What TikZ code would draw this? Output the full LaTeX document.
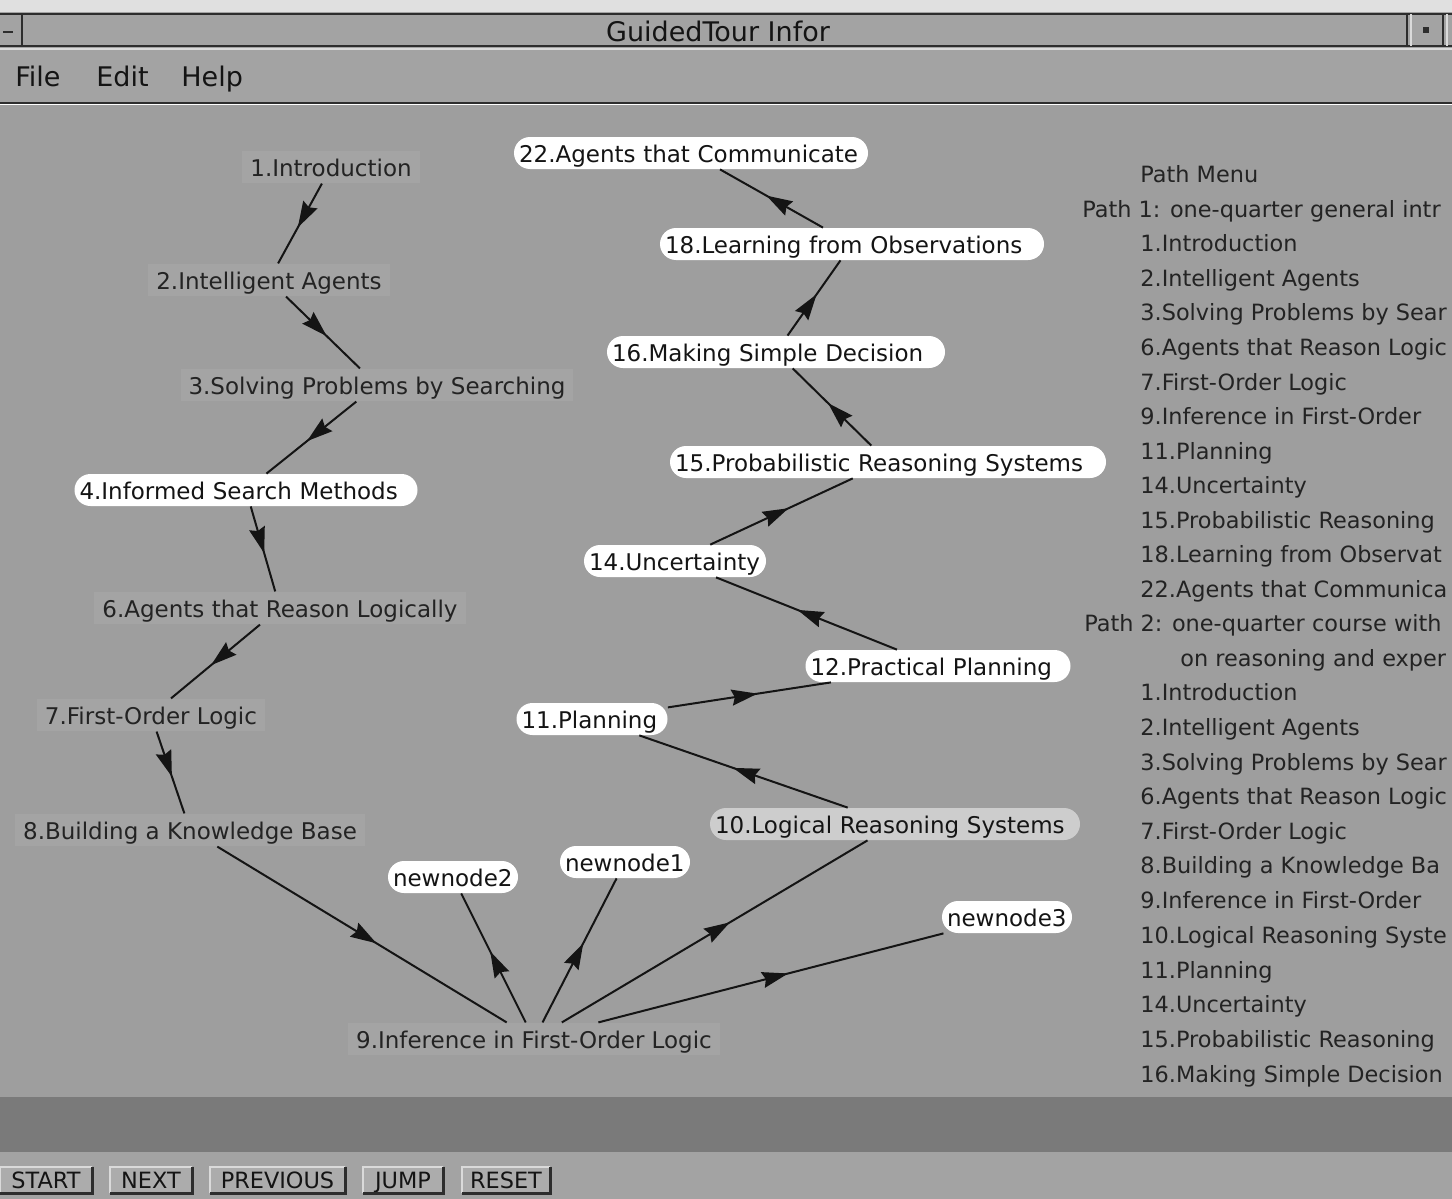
\documentclass[tikz,border=0pt]{standalone}
\usepackage{fontspec}
\setmainfont{DejaVu Sans}
\usetikzlibrary{arrows.meta,decorations.markings}
\definecolor{canvasgray}{RGB}{158,158,158}
\definecolor{bargray}{RGB}{163,163,163}
\definecolor{topstrip}{RGB}{224,224,224}
\definecolor{bandgray}{RGB}{122,122,122}
\definecolor{plainfill}{RGB}{164,164,164}
\definecolor{selfill}{RGB}{205,205,205}
\definecolor{btngray}{RGB}{172,172,172}
\definecolor{ink}{RGB}{20,20,20}
\definecolor{softink}{RGB}{35,35,35}
\definecolor{darkline}{RGB}{45,45,45}
\definecolor{lightline}{RGB}{218,218,218}
\begin{document}
\begin{tikzpicture}[x=0.5pt,y=-0.5pt,
  every node/.style={font=\fontsize{11.5pt}{13pt}\selectfont, text=ink, text height=10pt, text depth=0.6pt},
  pill/.style={fill=white, rounded corners=8pt, inner xsep=2.5pt, inner ysep=0pt, minimum height=16pt, align=left},
  plain/.style={fill=plainfill, inner xsep=4pt, inner ysep=2.8pt, text=softink},
  rp/.style={anchor=west, inner sep=0pt, text=softink, font=\fontsize{11.2pt}{13pt}\selectfont},
  menutext/.style={anchor=west, inner sep=0pt, font=\fontsize{13.5pt}{15pt}\selectfont, text height=11pt, text depth=1.2pt},
  titletext/.style={inner sep=0pt, font=\fontsize{13.5pt}{15pt}\selectfont, text height=11pt, text depth=1.2pt},
  btn/.style={fill=btngray, font=\fontsize{11.2pt}{13pt}\selectfont, text=ink, inner sep=0pt, minimum height=13pt, text height=8pt, text depth=0pt},
  conn/.style={color=ink, line width=1pt, postaction={decorate},
    decoration={markings, mark=at position 0.55 with {\arrow{Stealth[length=13pt,width=8pt,inset=1.5pt]}}}}
]
\useasboundingbox (0,0) rectangle (1452,1199);
% window background
\fill[topstrip] (0,0) rectangle (1452,12);
\fill[bargray] (0,12) rectangle (1452,104);
\draw[darkline, line width=1pt] (0,14) -- (1452,14);
\draw[darkline, line width=1pt] (0,46) -- (1452,46);
\draw[lightline, line width=0.6pt] (0,49) -- (1452,49);
\draw[darkline, line width=1pt] (22,14) -- (22,46);
\draw[darkline, line width=1.2pt] (3,32) -- (13,32);
\draw[darkline, line width=1pt] (1407,14) -- (1407,46);
\draw[lightline, line width=0.6pt] (1411,14) -- (1411,46);
\draw[darkline, line width=1pt] (1443,14) -- (1443,46);
\draw[lightline, line width=0.6pt] (1447,14) -- (1447,46);
\fill[darkline] (1423,27) rectangle (1429,33);
\draw[darkline, line width=1.2pt] (0,103) -- (1452,103);
\fill[canvasgray] (0,104.5) rectangle (1452,1097);
\fill[bandgray] (0,1097) rectangle (1452,1152);
\fill[bargray] (0,1152) rectangle (1452,1199);
% title and menu
\node[titletext] (title) at (718,32) {GuidedTour Infor};
\node[menutext] (mfile) at (15,77) {File};
\node[menutext] (medit) at (96,77) {Edit};
\node[menutext] (mhelp) at (181,77) {Help};
% graph nodes
\node[plain] (n1) at (331,167) {1.Introduction};
\node[plain] (n2) at (269,280) {2.Intelligent Agents};
\node[plain] (n3) at (377,385) {3.Solving Problems by Searching};
\node[pill, text width=166.5pt] (n4) at (246,490) {4.Informed Search Methods};
\node[plain] (n6) at (280,608) {6.Agents that Reason Logically};
\node[plain] (n7) at (151,715) {7.First-Order Logic};
\node[plain] (n8) at (190,830) {8.Building a Knowledge Base};
\node[plain] (n9) at (534,1039) {9.Inference in First-Order Logic};
\node[pill, fill=selfill, text width=180pt] (n10) at (895,824) {10.Logical Reasoning Systems};
\node[pill, text width=70.5pt] (n11) at (592,719) {11.Planning};
\node[pill, text width=127.5pt] (n12) at (938,666) {12.Practical Planning};
\node[pill, text width=86pt] (n14) at (675,561) {14.Uncertainty};
\node[pill, text width=213pt] (n15) at (888,462) {15.Probabilistic Reasoning Systems};
\node[pill, text width=164pt] (n16) at (776,352) {16.Making Simple Decision};
\node[pill, text width=187pt] (n18) at (852,244) {18.Learning from Observations};
\node[pill, text width=172pt] (n22) at (691,153) {22.Agents that Communicate};
\node[pill, text width=60pt] (nn1) at (625,862) {newnode1};
\node[pill, text width=60pt] (nn2) at (453,877) {newnode2};
\node[pill, text width=60pt] (nn3) at (1007,917) {newnode3};
% connectors
\draw[conn] (n1) -- (n2);
\draw[conn] (n2) -- (n3);
\draw[conn] (n3) -- (n4);
\draw[conn] (n4) -- (n6);
\draw[conn] (n6) -- (n7);
\draw[conn] (n7) -- (n8);
\draw[conn] (n8) -- (n9);
\draw[conn] (n9) -- (nn2);
\draw[conn] (n9) -- (nn1);
\draw[conn] (n9) -- (n10);
\draw[conn] (n9) -- (nn3);
\draw[conn] (n10) -- (n11);
\draw[conn] (n11) -- (n12);
\draw[conn] (n12) -- (n14);
\draw[conn] (n14) -- (n15);
\draw[conn] (n15) -- (n16);
\draw[conn] (n16) -- (n18);
\draw[conn] (n18) -- (n22);
% path menu
\node[rp] (p00) at (1140,173) {Path Menu};
\node[rp] (p01) at (1082,208) {Path 1: one-quarter general intr};
\node[rp] (p02) at (1140,242) {1.Introduction};
\node[rp] (p03) at (1140,277) {2.Intelligent Agents};
\node[rp] (p04) at (1140,311) {3.Solving Problems by Sear};
\node[rp] (p05) at (1140,346) {6.Agents that Reason Logic};
\node[rp] (p06) at (1140,381) {7.First-Order Logic};
\node[rp] (p07) at (1140,415) {9.Inference in First-Order};
\node[rp] (p08) at (1140,450) {11.Planning};
\node[rp] (p09) at (1140,484) {14.Uncertainty};
\node[rp] (p10) at (1140,519) {15.Probabilistic Reasoning};
\node[rp] (p11) at (1140,553) {18.Learning from Observat};
\node[rp] (p12) at (1140,588) {22.Agents that Communica};
\node[rp] (p13) at (1084,622) {Path 2: one-quarter course with};
\node[rp] (p14) at (1180,657) {on reasoning and exper};
\node[rp] (p15) at (1140,691) {1.Introduction};
\node[rp] (p16) at (1140,726) {2.Intelligent Agents};
\node[rp] (p17) at (1140,761) {3.Solving Problems by Sear};
\node[rp] (p18) at (1140,795) {6.Agents that Reason Logic};
\node[rp] (p19) at (1140,830) {7.First-Order Logic};
\node[rp] (p20) at (1140,864) {8.Building a Knowledge Ba};
\node[rp] (p21) at (1140,899) {9.Inference in First-Order};
\node[rp] (p22) at (1140,934) {10.Logical Reasoning Syste};
\node[rp] (p23) at (1140,969) {11.Planning};
\node[rp] (p24) at (1140,1003) {14.Uncertainty};
\node[rp] (p25) at (1140,1038) {15.Probabilistic Reasoning};
\node[rp] (p26) at (1140,1073) {16.Making Simple Decision};
% buttons
\node[btn, minimum width=46pt] (bstart) at (46,1180) {START};
\node[btn, minimum width=41pt] (bnext) at (151,1180) {NEXT};
\node[btn, minimum width=67.5pt] (bprev) at (277.5,1180) {PREVIOUS};
\node[btn, minimum width=40pt] (bjump) at (403,1180) {JUMP};
\node[btn, minimum width=44pt] (breset) at (506,1180) {RESET};
\foreach \b in {bstart,bnext,bprev,bjump,breset}{
  \draw[lightline, line width=1pt] (\b.south west) -- (\b.north west) -- (\b.north east);
  \draw[darkline, line width=1.5pt] (\b.north east) -- (\b.south east) -- (\b.south west);
}
\end{tikzpicture}
\end{document}
